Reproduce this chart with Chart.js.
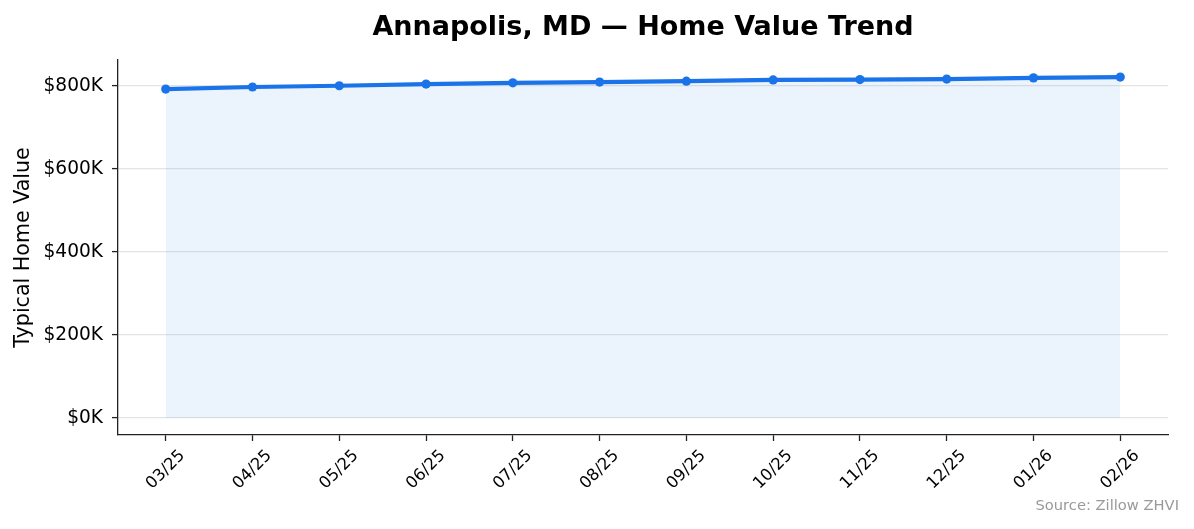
<!DOCTYPE html>
<html>
<head>
<meta charset="utf-8">
<script src="https://cdn.jsdelivr.net/npm/chart.js@4.4.1/dist/chart.umd.min.js"></script>
<style>
  html, body { margin: 0; padding: 0; background: #ffffff; }
  #wrap { width: 1194px; height: 529px; position: relative; }
</style>
</head>
<body>
<div id="wrap"><canvas id="c" width="1194" height="529"></canvas></div>
<script>
// ---- Data ----
const months = ["03/25","04/25","05/25","06/25","07/25","08/25","09/25","10/25","11/25","12/25","01/26","02/26"];
const homeValues = [792000, 797000, 800000, 804000, 807000, 809000, 811000, 814000, 815000, 816000, 819000, 821000];
const yTickValues = [0, 200000, 400000, 600000, 800000];
const titleText = "Annapolis, MD \u2014 Home Value Trend";
const yAxisLabel = "Typical Home Value";
const sourceText = "Source: Zillow ZHVI";

const FONT = "'DejaVu Sans', sans-serif";
const LINE = '#1a73e8';
const SPINE = '#222222';

const points = homeValues.map((v, i) => ({ x: i, y: v }));
const maxV = Math.max(...homeValues);
const yMax = maxV * 1.05;
const yMin = -maxV * 0.05;
const n = months.length;

const decorPlugin = {
  id: 'decor',
  afterDraw(chart) {
    const ctx = chart.ctx;
    const ca = chart.chartArea;
    const xs = chart.scales.x;
    ctx.save();
    // Title
    ctx.fillStyle = '#000';
    ctx.font = "bold 27px " + FONT;
    ctx.textAlign = 'center';
    ctx.textBaseline = 'alphabetic';
    ctx.fillText(titleText, (ca.left + ca.right) / 2, 35);
    // Y axis label
    ctx.save();
    ctx.translate(29, (ca.top + ca.bottom) / 2);
    ctx.rotate(-Math.PI / 2);
    ctx.font = "20.6px " + FONT;
    ctx.fillStyle = '#000';
    ctx.textAlign = 'center';
    ctx.textBaseline = 'alphabetic';
    ctx.fillText(yAxisLabel, 0, 0);
    ctx.restore();
    // X tick labels rotated 45 deg, centred on ticks (matplotlib style)
    const fs = 16.4;
    ctx.font = fs + "px " + FONT;
    ctx.fillStyle = '#000';
    ctx.textAlign = 'center';
    ctx.textBaseline = 'middle';
    const h = fs * 1.164;
    months.forEach((m, i) => {
      const px = xs.getPixelForValue(i);
      const w = ctx.measureText(m).width;
      const box = (w + h) * Math.SQRT1_2;
      const cy = ca.bottom + 6 + 5.4 + box / 2;
      ctx.save();
      ctx.translate(px, cy);
      ctx.rotate(-Math.PI / 4);
      ctx.fillText(m, 0, 0);
      ctx.restore();
    });
    // Source note
    ctx.font = "14.7px " + FONT;
    ctx.fillStyle = '#999999';
    ctx.textAlign = 'right';
    ctx.textBaseline = 'alphabetic';
    ctx.fillText(sourceText, 1179, 510);
    ctx.restore();
  }
};

new Chart(document.getElementById('c'), {
  type: 'line',
  data: {
    datasets: [{
      data: points,
      borderColor: LINE,
      backgroundColor: 'rgba(26,115,232,0.085)',
      fill: 'origin',
      borderWidth: 4.2,
      pointRadius: 4.6,
      pointBackgroundColor: LINE,
      pointBorderColor: LINE,
      pointBorderWidth: 0,
      tension: 0,
      clip: false
    }]
  },
  options: {
    responsive: false,
    animation: false,
    devicePixelRatio: 1,
    layout: { padding: { top: 60, right: 26, left: 0, bottom: 0 } },
    plugins: { legend: { display: false }, tooltip: { enabled: false }, title: { display: false } },
    scales: {
      x: {
        type: 'linear',
        min: -0.55,
        max: n - 1 + 0.55,
        afterBuildTicks(scale) { scale.ticks = months.map((_, i) => ({ value: i })); },
        afterFit(scale) { scale.height = 94; },
        ticks: { display: false },
        grid: { drawOnChartArea: false, drawTicks: true, tickLength: 6, tickColor: SPINE, tickWidth: 1.3 },
        border: { display: true, color: SPINE, width: 1.3 }
      },
      y: {
        type: 'linear',
        min: yMin,
        max: yMax,
        afterBuildTicks(scale) { scale.ticks = yTickValues.map(v => ({ value: v })); },
        afterFit(scale) { scale.width = 118; },
        ticks: {
          padding: 9,
          color: '#000',
          font: { family: FONT, size: 18.6 },
          callback: (v) => '$' + Math.round(v / 1000) + 'K'
        },
        grid: { drawOnChartArea: true, color: '#e4e4e4', lineWidth: 1.2, drawTicks: true, tickLength: 6, tickColor: SPINE, tickWidth: 1.3 },
        border: { display: true, color: SPINE, width: 1.3 }
      }
    }
  },
  plugins: [decorPlugin]
});
</script>
</body>
</html>
